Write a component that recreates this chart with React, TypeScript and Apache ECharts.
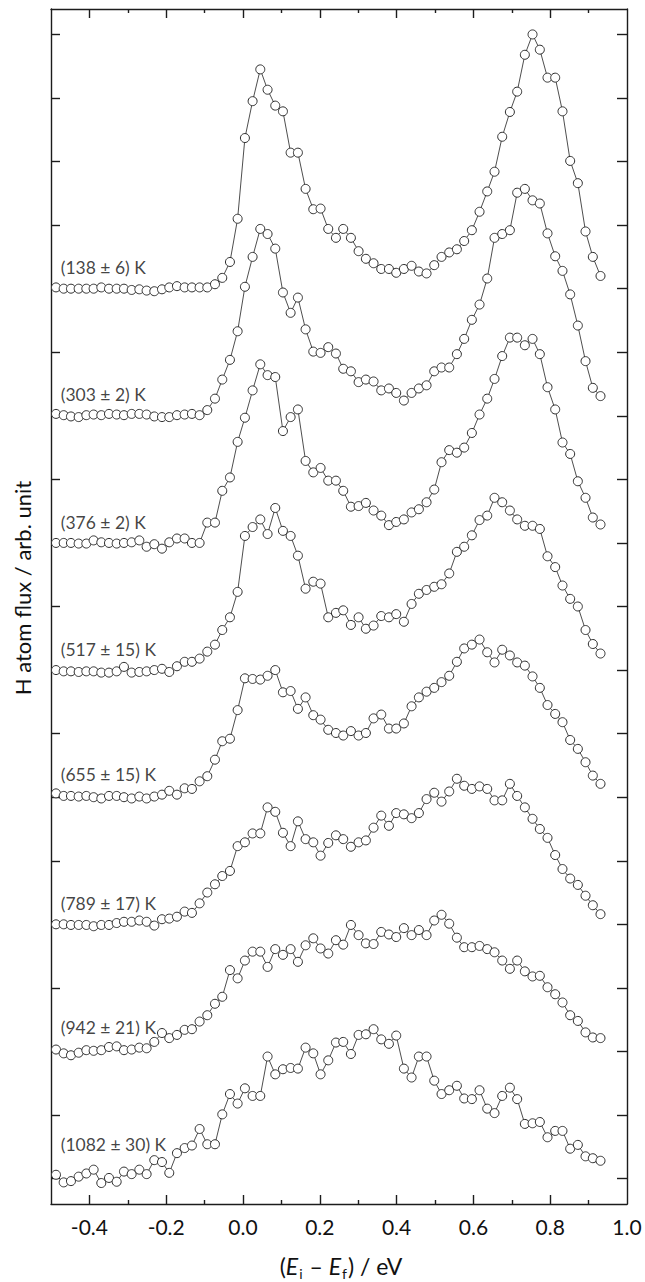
import React, { useEffect, useRef } from "react";
import * as echarts from "echarts";

// Energy axis (E_i - E_f) in eV
const energies = [
  -0.487, -0.467, -0.448, -0.428, -0.408, -0.389, -0.369, -0.349, -0.329, -0.31,
  -0.29, -0.27, -0.251, -0.231, -0.211, -0.192, -0.172, -0.152, -0.133, -0.113,
  -0.093, -0.073, -0.054, -0.034, -0.014, 0.005, 0.025, 0.045, 0.064, 0.084,
  0.104, 0.124, 0.143, 0.163, 0.183, 0.202, 0.222, 0.242, 0.261, 0.281,
  0.301, 0.32, 0.34, 0.36, 0.38, 0.399, 0.419, 0.439, 0.458, 0.478,
  0.498, 0.517, 0.537, 0.557, 0.576, 0.596, 0.616, 0.636, 0.655, 0.675,
  0.695, 0.714, 0.734, 0.754, 0.773, 0.793, 0.813, 0.832, 0.852, 0.872,
  0.892, 0.911, 0.931,
];

const temperatures = [
  "(138 ± 6) K",
  "(303 ± 2) K",
  "(376 ± 2) K",
  "(517 ± 15) K",
  "(655 ± 15) K",
  "(789 ± 17) K",
  "(942 ± 21) K",
  "(1082 ± 30) K",
];

// vertical offsets of the stacked curves (arb. units)
const offsets = [14, 12, 10, 8, 6, 4, 2, 0];

const flux138 = [
  0.02, 0, 0, 0, 0, 0, 0.02, 0, 0, 0, -0.02, -0.01, -0.03, -0.04, -0.01, 0.02, 0.04, 0.02, 0.02, 0.02, 0.02,
  0.07, 0.17, 0.42, 1.1, 2.37, 2.95, 3.45, 3.13, 2.88, 2.79, 2.14, 2.14, 1.57, 1.25, 1.26, 0.94, 0.8, 0.94, 0.8,
  0.59, 0.47, 0.4, 0.31, 0.31, 0.25, 0.31, 0.36, 0.27, 0.24, 0.37, 0.5, 0.57, 0.62, 0.75, 0.92, 1.21, 1.53, 1.84,
  2.39, 2.78, 3.1, 3.68, 4.0, 3.76, 3.32, 3.32, 2.79, 2.01, 1.66, 0.9, 0.5, 0.2,
];
const flux303 = [
  0.03, 0.01, -0.01, -0.02, 0.01, 0.02, 0.01, 0.03, 0.02, 0.01, 0.03, 0.03, 0.02, -0.01, -0.02, -0.02, 0.01, 0.02, 0.03, 0.01, 0.09,
  0.27, 0.57, 0.88, 1.33, 2.03, 2.5, 2.94, 2.86, 2.63, 1.94, 1.62, 1.86, 1.36, 1.01, 0.99, 1.08, 0.98, 0.74, 0.7,
  0.53, 0.57, 0.54, 0.4, 0.43, 0.36, 0.24, 0.36, 0.43, 0.48, 0.7, 0.76, 0.76, 0.97, 1.21, 1.51, 1.75, 2.16, 2.8,
  2.86, 2.92, 3.51, 3.57, 3.39, 3.34, 2.87, 2.51, 2.28, 1.91, 1.42, 0.86, 0.44, 0.31,
];
const flux376 = [
  0, 0, 0, -0.01, -0.01, 0.04, 0.01, 0, -0.01, 0, 0.01, 0.04, -0.06, -0.02, -0.09, 0.01, 0.07, 0.07, 0, 0,
  0.32, 0.32, 0.82, 1.03, 1.59, 1.97, 2.4, 2.81, 2.64, 2.61, 1.76, 1.98, 2.1, 1.29, 1.11, 1.18, 0.98, 0.98, 0.82, 0.57,
  0.58, 0.63, 0.51, 0.43, 0.28, 0.33, 0.37, 0.48, 0.53, 0.64, 0.84, 1.27, 1.46, 1.42, 1.5, 1.73, 2.02, 2.27, 2.58,
  2.94, 3.23, 3.23, 3.11, 3.21, 2.97, 2.45, 2.1, 1.58, 1.4, 0.97, 0.71, 0.4, 0.29,
];
const flux517 = [
  0, -0.02, -0.02, -0.03, -0.02, -0.02, -0.04, -0.04, -0.02, 0.05, -0.04, -0.03, -0.02, 0, 0.02, -0.03, 0.06, 0.13, 0.13, 0.18, 0.29,
  0.4, 0.63, 0.83, 1.23, 2.11, 2.25, 2.37, 2.14, 2.55, 2.19, 2.11, 1.8, 1.28, 1.39, 1.36, 0.83, 0.9, 0.94, 0.71,
  0.83, 0.65, 0.7, 0.85, 0.83, 0.88, 0.76, 1.04, 1.2, 1.26, 1.31, 1.35, 1.52, 1.86, 1.94, 2.12, 2.36, 2.43, 2.71,
  2.64, 2.51, 2.37, 2.27, 2.27, 2.22, 1.79, 1.62, 1.33, 1.12, 1.0, 0.63, 0.41, 0.26,
];
const flux655 = [
  0.06, 0.02, 0.02, 0.01, 0.02, 0, -0.02, 0.02, 0.02, 0, -0.02, 0.01, -0.02, 0.01, 0.04, 0.1, 0.04, 0.14, 0.13, 0.25, 0.33,
  0.59, 0.88, 0.92, 1.37, 1.87, 1.86, 1.85, 1.91, 2.0, 1.65, 1.67, 1.39, 1.57, 1.29, 1.22, 1.06, 1.01, 0.97, 1.04,
  0.97, 1.01, 1.24, 1.3, 1.08, 1.08, 1.16, 1.43, 1.57, 1.66, 1.72, 1.81, 1.91, 2.13, 2.34, 2.4, 2.48, 2.28, 2.12,
  2.32, 2.23, 2.12, 2.07, 1.9, 1.72, 1.45, 1.31, 1.18, 0.9, 0.76, 0.55, 0.34, 0.21,
];
const flux789 = [
  0, 0, -0.01, -0.01, -0.01, -0.03, -0.01, -0.01, 0.02, 0.04, 0.04, 0.06, 0.04, -0.02, 0.08, 0.09, 0.12, 0.2, 0.18, 0.33, 0.5,
  0.63, 0.76, 0.84, 1.23, 1.29, 1.43, 1.43, 1.84, 1.77, 1.44, 1.23, 1.62, 1.34, 1.29, 1.08, 1.28, 1.4, 1.34, 1.22,
  1.29, 1.32, 1.52, 1.71, 1.55, 1.75, 1.73, 1.67, 1.75, 1.97, 2.07, 1.93, 2.09, 2.29, 2.18, 2.13, 2.17, 2.13, 1.95,
  1.95, 2.21, 2.02, 1.84, 1.66, 1.5, 1.36, 1.09, 0.87, 0.72, 0.62, 0.45, 0.3, 0.16,
];
const flux942 = [
  0.03, -0.03, -0.06, -0.02, 0.02, 0.01, 0.02, 0.07, 0.08, 0.02, 0.03, 0.06, 0.05, 0.15, 0.29, 0.21, 0.26, 0.34, 0.35, 0.47, 0.57,
  0.75, 0.86, 1.28, 1.15, 1.43, 1.57, 1.57, 1.33, 1.61, 1.52, 1.61, 1.41, 1.67, 1.78, 1.62, 1.54, 1.75, 1.68, 1.99,
  1.83, 1.7, 1.69, 1.88, 1.84, 1.8, 1.94, 1.83, 1.91, 1.83, 2.06, 2.15, 2.01, 1.79, 1.64, 1.64, 1.66, 1.61, 1.56,
  1.43, 1.3, 1.43, 1.26, 1.18, 1.19, 1.01, 0.9, 0.77, 0.57, 0.48, 0.3, 0.22, 0.21,
];
const flux1082 = [
  0.06, -0.06, -0.04, 0.03, 0.08, 0.14, -0.07, 0.01, -0.05, 0.11, 0.07, 0.14, 0.07, 0.29, 0.26, 0.09, 0.4, 0.48, 0.52, 0.78, 0.54,
  0.54, 1.01, 1.33, 1.18, 1.42, 1.3, 1.3, 1.92, 1.64, 1.72, 1.74, 1.73, 2.06, 1.97, 1.64, 1.86, 2.14, 2.15, 1.96,
  2.26, 2.27, 2.35, 2.19, 2.12, 2.25, 1.73, 1.59, 1.92, 1.92, 1.54, 1.33, 1.39, 1.46, 1.26, 1.25, 1.39, 1.1, 1.03,
  1.3, 1.43, 1.25, 0.86, 0.87, 0.89, 0.65, 0.75, 0.75, 0.47, 0.53, 0.35, 0.32, 0.28,
];

const fluxes = [flux138, flux303, flux376, flux517, flux655, flux789, flux942, flux1082];

const xMajorTicks = [-0.4, -0.2, 0, 0.2, 0.4, 0.6, 0.8];
const xMinorTicks = [-0.3, -0.1, 0.1, 0.3, 0.5, 0.7, 0.9];
const xTickLabels = [-0.4, -0.2, 0, 0.2, 0.4, 0.6, 0.8, 1.0];
const yTicks = [0, 1, 2, 3, 4, 5, 6, 7, 8, 9, 10, 11, 12, 13, 14, 15, 16, 17, 18];

// layout: label anchor (x in eV, lift above baseline in arb. units)
const labelX = -0.476;
const labelLift = [0.33, 0.34, 0.32, 0.32, 0.35, 0.32, 0.38, 0.53];

const FONT = "Lato, 'Open Sans', sans-serif";
const INK = "#1c1c1c";

export default function App() {
  const ref = useRef<HTMLDivElement>(null);

  useEffect(() => {
    if (!ref.current) return;
    const chart = echarts.init(ref.current, null, { renderer: "svg" });

    const lineStyle = { color: INK, width: 1.4 };
    const baseX = {
      type: "value" as const,
      min: -0.5,
      max: 1.0,
      splitLine: { show: false },
    };
    const baseY = {
      type: "value" as const,
      min: -0.4,
      max: 18.4,
      splitLine: { show: false },
      axisLabel: { show: false },
    };

    const curveSeries = fluxes.map((vals, k) => ({
      type: "line" as const,
      name: temperatures[k],
      xAxisIndex: 0,
      yAxisIndex: 0,
      data: energies.map((x, i) => [x, vals[i] + offsets[k]]),
      symbol: "circle",
      symbolSize: 9,
      showAllSymbol: true,
      lineStyle: { color: "#3a3a3a", width: 0.9 },
      itemStyle: { color: "#ffffff", borderColor: "#2e2e2e", borderWidth: 1 },
      emphasis: { disabled: true },
      z: 2 + k,
    }));

    const labelSeries = {
      type: "scatter" as const,
      xAxisIndex: 0,
      yAxisIndex: 0,
      symbolSize: 1,
      itemStyle: { color: "rgba(0,0,0,0)" },
      data: temperatures.map((t, k) => ({ name: t, value: [labelX, offsets[k] + labelLift[k]] })),
      label: {
        show: true,
        position: "right",
        distance: 0,
        align: "left",
        verticalAlign: "middle",
        formatter: (p: any) => p.name,
        fontFamily: FONT,
        fontSize: 17.5,
        color: "#111",
      },
      emphasis: { disabled: true },
      z: 20,
    };

    const option: any = {
      animation: false,
      backgroundColor: "#ffffff",
      grid: { left: 51, right: 18, top: 9, bottom: 78, containLabel: false },
      xAxis: [
        {
          ...baseX,
          position: "bottom",
          axisLine: { show: true, onZero: false, lineStyle },
          axisTick: { show: true, inside: true, length: 9, lineStyle, customValues: xMajorTicks },
          axisLabel: {
            show: true,
            customValues: xTickLabels,
            formatter: (v: number) => v.toFixed(1),
            fontFamily: FONT,
            fontSize: 21,
            color: "#111",
            margin: 12,
          },
        },
        {
          ...baseX,
          position: "bottom",
          axisLine: { show: false, onZero: false },
          axisTick: { show: true, inside: true, length: 4, lineStyle, customValues: xMinorTicks },
          axisLabel: { show: false },
        },
        {
          ...baseX,
          position: "top",
          axisLine: { show: true, onZero: false, lineStyle },
          axisTick: { show: true, inside: true, length: 9, lineStyle, customValues: xMajorTicks },
          axisLabel: { show: false },
        },
        {
          ...baseX,
          position: "top",
          axisLine: { show: false, onZero: false },
          axisTick: { show: true, inside: true, length: 4, lineStyle, customValues: xMinorTicks },
          axisLabel: { show: false },
        },
      ],
      yAxis: [
        {
          ...baseY,
          position: "left",
          axisLine: { show: true, onZero: false, lineStyle },
          axisTick: { show: true, inside: true, length: 9, lineStyle, customValues: yTicks },
        },
        {
          ...baseY,
          position: "right",
          axisLine: { show: true, onZero: false, lineStyle },
          axisTick: { show: true, inside: true, length: 10, lineStyle, customValues: yTicks },
        },
      ],
      graphic: [
        {
          type: "text",
          x: 22,
          y: 588,
          rotation: Math.PI / 2,
          silent: true,
          style: {
            text: "H atom flux / arb. unit",
            fontFamily: FONT,
            fontSize: 22,
            fill: "#111",
            align: "center",
            verticalAlign: "middle",
            textAlign: "center",
            textVerticalAlign: "middle",
          },
        },
        {
          type: "text",
          x: 341,
          y: 1266,
          silent: true,
          style: {
            text: "({it|E}{sub|i} – {it|E}{sub|f}) / eV",
            fontFamily: FONT,
            fontSize: 23,
            fill: "#111",
            align: "center",
            verticalAlign: "middle",
            textAlign: "center",
            textVerticalAlign: "middle",
            rich: {
              it: { fontFamily: FONT, fontSize: 23, fontStyle: "italic", fill: "#111" },
              sub: { fontFamily: FONT, fontSize: 14, fill: "#111", padding: [14, 1, 0, 1] },
            },
          },
        },
      ],
      series: [...curveSeries, labelSeries],
    };

    chart.setOption(option);
    return () => chart.dispose();
  }, []);

  return (
    <div
      ref={ref}
      style={{ position: "absolute", left: 0, top: 0, width: 645, height: 1282, background: "#fff" }}
    />
  );
}
